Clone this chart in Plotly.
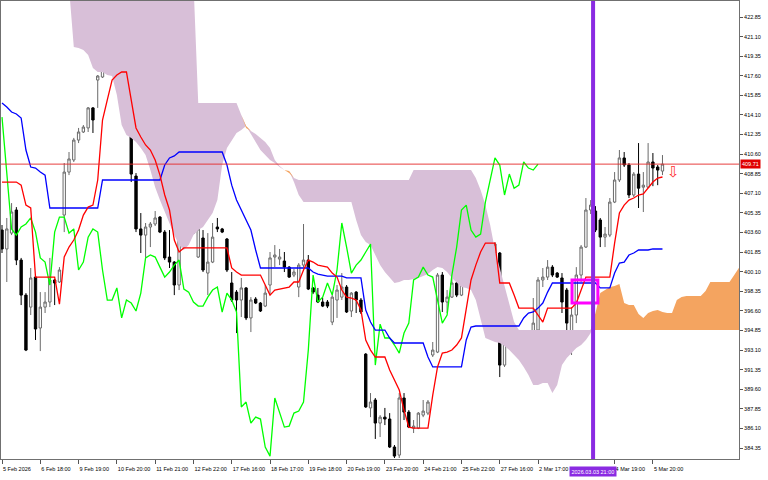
import numpy as np
import plotly.graph_objects as go

# ---------------- data (prices) ----------------
opens = [403.82, 402.13, 403.55, 405.61, 401.14, 398.01, 396.94, 399.62, 395.07, 396.94,
         397.39, 399.36, 399.18, 405.16, 409.00, 410.08, 411.86, 412.58, 412.94, 414.73,
         417.22, 417.49, 421.95, 420.17, 419.27, 416.68, 415.08, 413.02, 408.64, 403.92,
         403.37, 404.09, 404.36, 404.98, 403.64, 401.41, 400.96, 398.91, 403.55, 404.90,
         404.98, 401.41, 403.11, 399.98, 400.96, 404.09, 403.92, 403.02, 399.09, 398.28,
         397.57, 398.65, 395.97, 397.66, 397.30, 397.03, 398.91, 401.41, 401.23, 401.05,
         400.51, 399.80, 398.73, 400.69, 401.14, 398.65, 398.01, 397.39, 397.39, 395.60,
         397.57, 397.83, 398.73, 396.59, 398.28, 397.57, 392.74, 387.93, 388.64, 386.58,
         387.11, 386.94, 384.44, 383.72, 388.82, 387.56, 386.13, 386.13, 387.29, 387.47,
         392.66, 392.92, 399.80, 397.39, 397.83, 399.09, 398.01, 402.48, 404.45, 402.30,
         399.98, 400.69, 401.41, 401.77, 401.77, 391.76, 395.42, 394.27, 394.27, 393.46,
         392.83, 393.28, 394.89, 399.36, 399.62, 400.51, 399.98, 399.54, 398.46, 394.45,
         396.23, 399.80, 402.30, 405.61, 405.52, 404.72, 403.19, 403.37, 406.32, 408.29,
         410.26, 409.63, 406.95, 408.82, 407.65, 407.65, 409.90, 409.45, 409.09]
highs = [404.27, 404.90, 406.23, 405.87, 401.33, 398.19, 400.43, 399.80, 398.28, 398.28,
         401.33, 399.45, 400.51, 409.81, 410.79, 412.05, 412.94, 413.20, 414.81, 414.81,
         417.67, 423.66, 422.13, 420.53, 419.45, 416.77, 415.17, 413.91, 408.91, 405.34,
         404.45, 404.54, 405.52, 405.07, 403.82, 403.82, 401.05, 404.45, 405.07, 406.14,
         406.05, 405.34, 403.82, 403.55, 404.45, 404.90, 404.01, 403.11, 400.07, 398.46,
         399.54, 398.73, 397.83, 397.83, 397.39, 398.91, 401.86, 402.48, 402.13, 401.86,
         400.60, 400.34, 400.87, 404.36, 401.59, 398.73, 398.65, 397.75, 397.57, 398.01,
         398.91, 399.98, 398.91, 398.28, 398.37, 397.75, 392.83, 389.26, 388.82, 387.29,
         387.93, 387.47, 384.62, 389.26, 389.26, 387.74, 386.85, 387.56, 388.64, 388.64,
         393.82, 399.98, 400.07, 398.46, 399.98, 399.98, 401.05, 405.34, 407.40, 404.45,
         401.41, 401.33, 402.93, 402.75, 401.86, 395.97, 395.60, 395.07, 394.62, 393.55,
         394.89, 397.75, 399.62, 400.43, 401.14, 400.69, 400.07, 399.98, 398.65, 396.94,
         400.51, 402.48, 406.68, 406.50, 405.96, 404.90, 404.09, 406.68, 409.00, 410.97,
         410.79, 409.81, 409.00, 411.59, 409.00, 411.59, 410.70, 409.63, 410.52]
lows = [401.77, 399.18, 403.37, 400.69, 397.12, 393.01, 396.23, 394.00, 393.01, 396.41,
        396.94, 397.12, 399.09, 403.64, 408.73, 409.90, 411.59, 412.49, 412.58, 412.49,
        414.73, 417.40, 420.09, 419.19, 416.59, 414.99, 413.38, 408.11, 403.64, 401.77,
        401.33, 402.30, 404.18, 403.55, 401.14, 400.43, 398.01, 398.46, 403.46, 404.09,
        403.46, 401.33, 400.07, 398.01, 400.87, 403.64, 403.55, 400.07, 397.39, 394.62,
        396.05, 395.78, 394.71, 397.21, 396.50, 396.94, 398.01, 400.51, 400.69, 400.07,
        399.54, 399.62, 397.83, 400.51, 398.46, 398.10, 397.30, 396.94, 396.85, 395.33,
        395.97, 397.57, 396.41, 396.05, 396.41, 396.32, 387.93, 387.11, 385.16, 385.33,
        386.40, 384.35, 383.46, 383.46, 386.85, 386.13, 385.69, 386.04, 387.11, 387.29,
        392.48, 392.83, 396.50, 396.41, 397.75, 397.83, 397.92, 401.41, 402.22, 399.80,
        398.91, 399.09, 399.09, 401.59, 390.69, 391.59, 394.00, 393.82, 393.37, 392.66,
        392.66, 393.19, 394.71, 398.73, 399.36, 399.62, 399.54, 396.41, 394.62, 392.66,
        395.51, 399.18, 402.22, 405.25, 403.64, 402.30, 402.30, 403.19, 406.23, 408.11,
        409.45, 406.68, 406.77, 405.79, 405.43, 407.56, 407.74, 407.83, 408.73]
closes = [402.13, 403.92, 405.43, 401.14, 398.01, 393.10, 399.54, 394.98, 396.94, 397.39,
          399.36, 399.09, 400.25, 409.00, 410.17, 411.86, 412.58, 413.02, 414.73, 413.65,
          417.58, 422.13, 420.17, 419.27, 416.68, 415.08, 413.91, 408.82, 403.92, 403.37,
          404.09, 404.36, 404.90, 403.64, 401.33, 400.96, 398.91, 403.64, 404.98, 404.98,
          403.55, 403.92, 400.25, 400.96, 403.19, 403.92, 403.64, 400.25, 397.57, 397.57,
          398.65, 395.97, 397.57, 397.30, 396.59, 398.19, 401.33, 401.59, 401.41, 400.51,
          399.62, 400.07, 400.69, 401.14, 398.55, 398.28, 397.39, 397.03, 397.03, 397.83,
          398.46, 398.73, 396.50, 398.19, 397.57, 396.50, 388.02, 388.46, 386.58, 387.11,
          386.94, 384.44, 383.63, 388.82, 387.56, 386.22, 386.31, 387.47, 387.65, 388.46,
          393.10, 399.80, 397.39, 397.83, 399.09, 398.01, 400.25, 404.45, 402.30, 399.98,
          400.69, 401.14, 401.86, 402.57, 391.76, 395.42, 394.18, 394.18, 393.55, 392.83,
          394.62, 395.51, 399.36, 399.62, 400.51, 399.80, 399.62, 397.39, 395.51, 396.23,
          399.80, 402.30, 405.61, 406.05, 403.82, 403.19, 403.46, 406.32, 408.29, 410.26,
          409.63, 406.95, 408.82, 407.56, 407.83, 409.90, 409.36, 409.18, 409.71]

tenkan = [408.11, 408.11, 408.11, 408.11, 407.83, 406.05, 405.79, 399.62, 399.62, 399.62,
          399.62, 399.62, 397.21, 401.41, 402.30, 402.93, 403.82, 405.16, 405.87, 406.05,
          408.29, 413.65, 415.44, 417.22, 417.67, 417.94, 417.94, 415.44, 412.94, 412.13,
          411.42, 410.97, 410.08, 408.73, 406.95, 405.61, 402.93, 401.86, 402.22, 402.22,
          402.22, 402.22, 402.22, 402.22, 402.22, 402.22, 402.22, 402.22, 400.43, 400.07,
          399.80, 399.80, 399.80, 399.80, 399.80, 398.91, 398.01, 398.46, 398.55, 398.65,
          398.73, 399.18, 399.18, 400.25, 401.14, 400.96, 400.69, 400.60, 400.51, 399.98,
          399.62, 398.46, 397.83, 397.75, 397.57, 396.68, 394.00, 393.10, 392.48, 392.48,
          392.48, 391.32, 390.42, 389.53, 387.74, 386.22, 386.13, 386.13, 386.13, 386.13,
          389.08, 391.59, 392.83, 392.92, 393.10, 393.55, 394.18, 396.68, 399.36, 400.69,
          401.86, 402.66, 402.66, 402.66, 399.09, 399.09, 399.09, 398.01, 396.85, 396.85,
          396.85, 396.85, 396.23, 395.60, 396.85, 396.85, 396.85, 396.85, 396.85, 396.85,
          397.30, 398.46, 399.62, 399.62, 399.62, 399.62, 399.62, 399.62, 402.66, 405.34,
          406.05, 406.50, 406.68, 406.95, 407.04, 407.58, 408.11, 408.47, 408.56]
kijun = [415.17, 414.81, 414.36, 414.19, 413.83, 410.97, 409.45, 409.36, 409.00, 408.73,
         405.79, 405.79, 405.79, 405.79, 405.79, 405.79, 405.79, 405.79, 405.79, 405.79,
         405.79, 408.29, 408.29, 408.29, 408.29, 408.29, 408.29, 408.29, 408.29, 408.29,
         408.29, 408.29, 408.29, 408.29, 409.63, 410.26, 410.44, 410.79, 410.79, 410.79,
         410.79, 410.79, 410.79, 410.79, 410.79, 410.79, 410.79, 409.63, 407.83, 406.50,
         405.61, 404.72, 403.82, 402.04, 400.43, 400.43, 400.43, 400.43, 400.43, 400.43,
         400.43, 400.43, 400.43, 400.43, 400.43, 400.07, 399.89, 399.80, 399.71, 399.71,
         399.71, 399.71, 399.54, 399.54, 399.54, 399.54, 396.68, 395.60, 394.89, 394.89,
         394.89, 394.18, 393.73, 393.73, 393.73, 393.73, 393.73, 393.73, 393.73, 392.48,
         391.59, 391.59, 391.59, 391.59, 391.59, 391.59, 391.59, 394.00, 395.16, 395.25,
         395.25, 395.25, 395.25, 395.25, 395.25, 395.25, 395.25, 395.25, 395.25, 395.97,
         396.41, 396.50, 396.85, 397.30, 398.28, 399.09, 399.09, 399.09, 399.09, 399.09,
         399.09, 399.09, 399.09, 399.09, 399.09, 398.65, 398.65, 398.65, 399.98, 400.87,
         400.96, 401.59, 401.77, 402.04, 402.04, 402.04, 402.13, 402.13, 402.13]

# Senkou spans, already shifted 26 bars ahead (bars 0..155); values above the view are off-chart
span_a = ([425.5] * 15 +
          [420.17, 420.09, 419.90, 419.45, 418.30, 417.94, 417.94, 417.67, 417.58, 415.88,
           413.20, 412.31, 412.05, 411.68, 411.15, 410.52, 409.18, 407.65, 406.50, 405.43,
           404.54, 403.37, 402.48, 402.04, 402.48, 403.37, 403.82, 404.09, 404.72, 405.34,
           406.50, 409.63, 411.15, 411.86, 412.49, 412.76, 413.11, 412.40, 411.68, 410.97,
           410.52, 410.08, 409.81, 409.45, 409.18, 409.09, 408.11, 406.95] +
          [406.32] * 11 +
          [404.72, 403.37, 402.75, 402.48, 401.59, 400.69, 400.07, 399.54, 399.09, 399.18,
           399.36, 399.36, 399.45, 399.54, 399.71, 399.89, 400.25, 400.51, 400.43, 400.07,
           399.54, 399.09, 398.73, 398.65, 398.46, 397.57, 395.78, 394.18, 394.00, 393.82,
           393.73, 393.46, 393.10, 392.66, 392.21, 391.59, 390.87, 389.98, 389.98, 390.15,
           390.15, 389.26, 389.98, 391.76, 392.39, 392.83, 393.28, 393.55, 394.00, 394.62,
           396.41, 398.19, 398.46, 398.73, 398.82, 399.00, 397.30, 397.12, 397.12, 396.32,
           395.97, 396.41, 396.59, 396.68, 396.50, 396.41, 396.41, 397.57, 397.83, 397.92,
           397.92, 397.92, 397.92, 398.37, 399.18, 399.18, 399.18, 399.18, 399.18, 399.80,
           400.51, 401.14])
span_b = ([426.0] * 41 + [415.17] * 9 +
          [414.10, 412.94, 412.67, 412.40, 412.05, 411.68, 411.15, 410.08, 409.54, 409.18,
           408.91, 408.47] +
          [408.29] * 24 + [409.18] * 13 +
          [408.47, 407.40, 406.05, 404.27, 402.04, 400.43, 398.91, 397.12, 395.60] +
          [394.89] * 48)

x_tick_bars = [0, 8, 16, 24, 32, 40, 48, 56, 64, 72, 80, 88, 96, 104, 112, 128, 136]
x_tick_labels = ["5 Feb 2026", "6 Feb 18:00", "9 Feb 19:00", "10 Feb 20:00", "11 Feb 21:00",
                 "12 Feb 22:00", "17 Feb 16:00", "18 Feb 17:00", "19 Feb 18:00", "20 Feb 19:00",
                 "23 Feb 20:00", "24 Feb 21:00", "25 Feb 22:00", "27 Feb 16:00", "2 Mar 17:00",
                 "4 Mar 19:00", "5 Mar 20:00"]
y_tick_vals = [384.35, 386.10, 387.85, 389.60, 391.35, 393.10, 394.85, 396.60, 398.35, 400.10,
               401.85, 403.60, 405.35, 407.10, 408.85, 410.60, 412.35, 414.10, 415.85, 417.60,
               419.35, 421.10, 422.85]
y_tick_labels = ["%.2f" % v for v in y_tick_vals]

last_price = 409.71
vline_bar = 123.5
vline_label = "2026.03.03 21:00"
box_bars = (119.1, 124.5)
box_prices = (397.30, 399.36)
signal_bar = 140.2
signal_price = 409.0

# ---------------- figure ----------------
bars = np.arange(len(closes))
cloud_x = np.arange(len(span_a))
a = np.array(span_a)
b = np.array(span_b)
upper = np.maximum(a, b)

fig = go.Figure()
line0 = dict(width=0)
fig.add_trace(go.Scatter(x=cloud_x, y=a, mode="lines", line=line0, hoverinfo="skip"))
fig.add_trace(go.Scatter(x=cloud_x, y=upper, mode="lines", line=line0, fill="tonexty",
                         fillcolor="#D8BFD8", hoverinfo="skip"))
fig.add_trace(go.Scatter(x=cloud_x, y=b, mode="lines", line=line0, hoverinfo="skip"))
fig.add_trace(go.Scatter(x=cloud_x, y=upper, mode="lines", line=line0, fill="tonexty",
                         fillcolor="#F4A460", hoverinfo="skip"))

fig.add_trace(go.Candlestick(
    x=bars, open=opens, high=highs, low=lows, close=closes,
    increasing=dict(line=dict(color="#6a6a6a", width=1), fillcolor="white"),
    decreasing=dict(line=dict(color="black", width=1), fillcolor="black"),
    whiskerwidth=0, hoverinfo="skip"))

chikou_x = bars[:len(closes) - 26]
chikou_y = closes[26:]
fig.add_trace(go.Scatter(x=chikou_x, y=chikou_y, mode="lines",
                         line=dict(color="#00FF00", width=1.3)))
fig.add_trace(go.Scatter(x=bars, y=kijun, mode="lines", line=dict(color="#0000FF", width=1.3)))
fig.add_trace(go.Scatter(x=bars, y=tenkan, mode="lines", line=dict(color="#FF0000", width=1.3)))

fig.add_shape(type="line", xref="paper", x0=0, x1=1, y0=last_price, y1=last_price,
              line=dict(color="rgba(230,40,40,0.9)", width=1))
fig.add_shape(type="rect", x0=box_bars[0], x1=box_bars[1], y0=box_prices[0], y1=box_prices[1],
              line=dict(color="#FF00FF", width=3))
fig.add_shape(type="line", x0=vline_bar, x1=vline_bar, yref="paper", y0=0, y1=1,
              line=dict(color="#8A2BE2", width=4))

fig.add_annotation(x=1, xref="paper", xanchor="left", y=last_price, yref="y", text="409.71",
                   showarrow=False, bgcolor="#E00000", font=dict(color="white", size=5.5,
                   family="Liberation Sans"), borderpad=1, xshift=1)
fig.add_annotation(x=vline_bar, xref="x", y=0, yref="paper", yanchor="top", yshift=-7,
                   text=vline_label, showarrow=False, bgcolor="#8A2BE2",
                   font=dict(color="white", size=5.5, family="Liberation Sans"), borderpad=1.5)
fig.add_annotation(x=signal_bar, y=signal_price, text="\u21e9", showarrow=False,
                   font=dict(color="#FF3030", size=15, family="DejaVu Sans"))

tick_font = dict(family="Liberation Sans", size=5.5, color="black")
fig.update_layout(
    width=768, height=480, autosize=False,
    margin=dict(l=1, r=29, t=1, b=21, pad=0),
    paper_bgcolor="white", plot_bgcolor="white",
    showlegend=False, hovermode=False,
    xaxis=dict(range=[-0.21, 153.99], tickvals=x_tick_bars, ticktext=x_tick_labels,
               tickmode="array", tickangle=0, automargin=False,
               ticks="outside", ticklen=4, tickcolor="#555", tickfont=tick_font,
               ticklabelposition="outside right", ticklabelstandoff=4,
               showgrid=False, zeroline=False,
               showline=True, mirror=True, linecolor="#707070", linewidth=1,
               rangeslider=dict(visible=False)),
    yaxis=dict(range=[383.37, 424.28], side="right", tickvals=y_tick_vals,
               ticktext=y_tick_labels, tickmode="array", automargin=False,
               ticks="outside", ticklen=3, tickcolor="#555",
               tickfont=tick_font, showgrid=False, zeroline=False, showline=True,
               mirror=True, linecolor="#707070", linewidth=1),
)

fig.write_html("out.html", config={"displayModeBar": False, "staticPlot": True},
               post_script="document.body.style.margin='0';document.body.style.overflow='hidden';")
